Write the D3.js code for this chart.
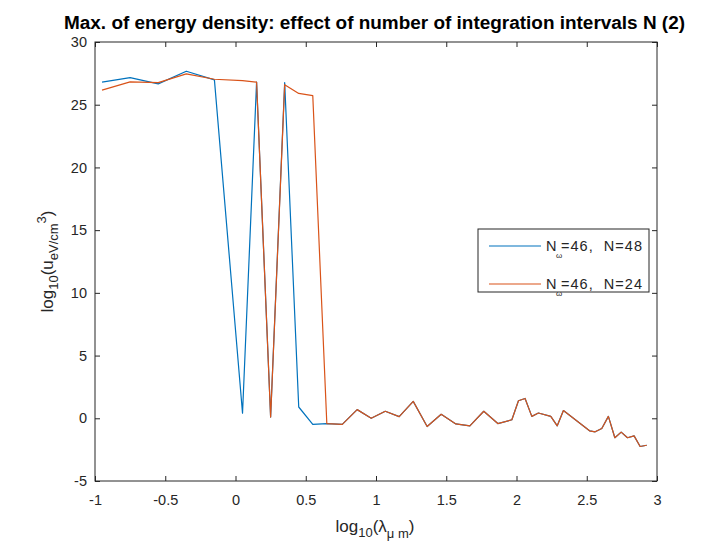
<!DOCTYPE html>
<html>
<head>
<meta charset="utf-8">
<script src="https://cdn.jsdelivr.net/npm/d3@7"></script>
<style>
  body { margin: 0; background: #fff; }
  text { font-family: "Liberation Sans", Arial, sans-serif; fill: #262626; }
</style>
</head>
<body>
<script>
// donnees (log10 lambda, log10 u)
const xBlue = [-0.95, -0.75, -0.55, -0.35, -0.15, 0.05, 0.15, 0.25, 0.35, 0.45, 0.55, 0.65,
  0.76, 0.866, 0.966, 1.066, 1.165, 1.265, 1.364, 1.464, 1.568, 1.668, 1.767, 1.867, 1.967,
  2.014, 2.061, 2.109, 2.156, 2.244, 2.29, 2.334, 2.52, 2.56, 2.607, 2.654, 2.70, 2.745,
  2.79, 2.837, 2.88, 2.927];
const yBlue = [26.8, 27.16, 26.66, 27.67, 26.98, 0.4, 26.8, 0.1, 26.76, 0.9, -0.48, -0.42,
  -0.48, 0.69, 0.0, 0.56, 0.13, 1.35, -0.66, 0.32, -0.45, -0.61, 0.56, -0.42, -0.12,
  1.4, 1.58, 0.15, 0.42, 0.15, -0.6, 0.62, -1.0, -1.08, -0.82, 0.15, -1.55, -1.1,
  -1.55, -1.4, -2.25, -2.15];

const xOrange = xBlue;
const yOrange = [26.16, 26.82, 26.76, 27.46, 27.03, 26.92, 26.8, 0.1, 26.6, 25.9, 25.73, -0.42,
  -0.48, 0.69, 0.0, 0.56, 0.13, 1.35, -0.66, 0.32, -0.45, -0.61, 0.56, -0.42, -0.12,
  1.4, 1.58, 0.15, 0.42, 0.15, -0.6, 0.62, -1.0, -1.08, -0.82, 0.15, -1.55, -1.1,
  -1.55, -1.4, -2.25, -2.15];

const xTicks = [-1, -0.5, 0, 0.5, 1, 1.5, 2, 2.5, 3];
const yTicks = [-5, 0, 5, 10, 15, 20, 25, 30];
const legendLabels = ["=46,  N=48", "=46,  N=24"];
const colors = ["#0072BD", "#D95319"];

const width = 728, height = 545;
const pLeft = 95, pRight = 657, pTop = 42, pBottom = 481;

const svg = d3.select("body").append("svg").attr("width", width).attr("height", height);

const x = d3.scaleLinear().domain([-1, 3]).range([pLeft, pRight]);
const y = d3.scaleLinear().domain([-5, 30]).range([pBottom, pTop]);

// axes (ticks vers l'interieur, comme matlab)
const axisColor = "#262626";
function styleAxis(g) {
  g.select(".domain").remove();
  g.selectAll("line").attr("stroke", axisColor);
  g.selectAll("text").attr("fill", axisColor).style("font-size", "14.5px")
    .style("font-family", "'Liberation Sans', Arial, sans-serif");
}

svg.append("g").attr("transform", `translate(0,${pBottom})`)
  .call(d3.axisBottom(x).tickValues(xTicks).tickSizeInner(-5).tickSizeOuter(0)
    .tickPadding(14).tickFormat(d => String(d)))
  .call(styleAxis);
svg.append("g").attr("transform", `translate(0,${pTop})`)
  .call(d3.axisTop(x).tickValues(xTicks).tickSizeInner(-5).tickSizeOuter(0).tickFormat(""))
  .call(styleAxis);
svg.append("g").attr("transform", `translate(${pLeft},0)`)
  .call(d3.axisLeft(y).tickValues(yTicks).tickSizeInner(-5).tickSizeOuter(0)
    .tickPadding(8).tickFormat(d => String(d)))
  .call(styleAxis);
svg.append("g").attr("transform", `translate(${pRight},0)`)
  .call(d3.axisRight(y).tickValues(yTicks).tickSizeInner(-5).tickSizeOuter(0).tickFormat(""))
  .call(styleAxis);

svg.append("rect")
  .attr("x", pLeft).attr("y", pTop)
  .attr("width", pRight - pLeft).attr("height", pBottom - pTop)
  .attr("fill", "none").attr("stroke", axisColor).attr("stroke-width", 1);

// courbes
const line = d3.line().x(d => x(d[0])).y(d => y(d[1]));
const series = [d3.zip(xBlue, yBlue), d3.zip(xOrange, yOrange)];
series.forEach((s, i) => {
  svg.append("path").datum(s)
    .attr("d", line)
    .attr("fill", "none")
    .attr("stroke", colors[i])
    .attr("stroke-width", 1.2)
    .attr("stroke-linejoin", "round");
});

// titre
svg.append("text")
  .attr("x", 374.5).attr("y", 29)
  .attr("text-anchor", "middle")
  .attr("textLength", 621).attr("lengthAdjust", "spacingAndGlyphs")
  .style("font-size", "18px").style("font-weight", "bold")
  .style("fill", "#000")
  .text("Max. of energy density: effect of number of integration intervals N (2)");

// label x : log10(lambda_mu m)
const xl = svg.append("text")
  .attr("x", 375).attr("y", 532)
  .attr("text-anchor", "middle")
  .style("font-size", "17px");
xl.append("tspan").text("log");
xl.append("tspan").attr("dy", 5).style("font-size", "13px").text("10");
xl.append("tspan").attr("dy", -5).text("(λ");
xl.append("tspan").attr("dy", 6).style("font-size", "13px").text("μ m");
xl.append("tspan").attr("dy", -6).text(")");

// label y : log10(u_eV/cm^3)
const yl = svg.append("text")
  .attr("transform", `translate(53,${(pTop + pBottom) / 2}) rotate(-90)`)
  .attr("text-anchor", "middle")
  .style("font-size", "17px");
yl.append("tspan").text("log");
yl.append("tspan").attr("dy", 5).style("font-size", "13px").text("10");
yl.append("tspan").attr("dy", -5).text("(u");
yl.append("tspan").attr("dy", 5).style("font-size", "13px").text("eV/cm");
yl.append("tspan").attr("dy", -12).style("font-size", "13px").text("3");
yl.append("tspan").attr("dy", 7).text(")");

// legende
const leg = svg.append("g");
leg.append("rect")
  .attr("x", 478).attr("y", 229).attr("width", 171).attr("height", 63)
  .attr("fill", "#fff").attr("stroke", axisColor).attr("stroke-width", 1);
legendLabels.forEach((lab, i) => {
  const yy = 246 + i * 38;
  leg.append("line")
    .attr("x1", 489).attr("x2", 541).attr("y1", yy).attr("y2", yy)
    .attr("stroke", colors[i]).attr("stroke-width", 1.2);
  leg.append("text").attr("x", 546).attr("y", yy + 4.5).style("font-size", "14.5px").text("N");
  leg.append("text").attr("x", 556).attr("y", yy + 12).style("font-size", "8px").text("ω");
  leg.append("text").attr("x", 561).attr("y", yy + 4.5).style("font-size", "14.5px")
    .attr("textLength", 81).attr("lengthAdjust", "spacing")
    .style("white-space", "pre").text(lab);
});
</script>
</body>
</html>
